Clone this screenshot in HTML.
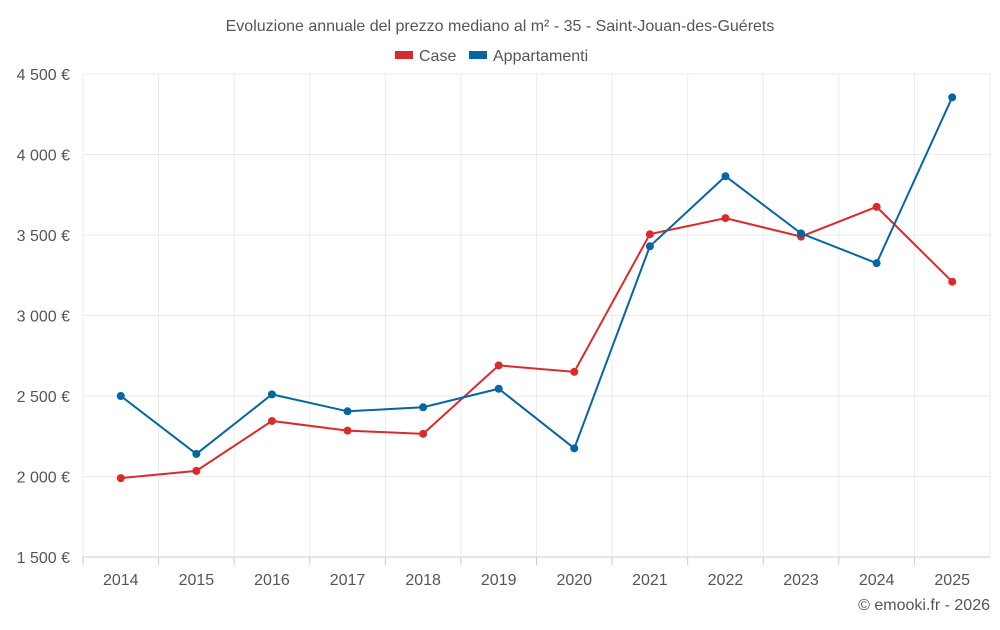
<!DOCTYPE html>
<html><head><meta charset="utf-8"><style>
body{margin:0;background:#fff;font-family:"Liberation Sans",sans-serif}
svg text{font-family:"Liberation Sans",sans-serif;fill:#555}
</style></head><body>
<svg id="chart" width="1000" height="625">
<text x="500" y="31" text-anchor="middle" font-size="16">Evoluzione annuale del prezzo mediano al m² - 35 - Saint-Jouan-des-Guérets</text>
<g>
<g><rect x="395" y="51" width="18" height="8" fill="#d92b2b"/><text x="419" y="61" font-size="16">Case</text></g>
<g><rect x="469" y="51" width="18" height="8" fill="#0566a0"/><text x="493" y="61" font-size="16">Appartamenti</text></g>
</g>
<g id="grid"></g><g id="axes"></g><g id="series"></g>
<text x="990" y="610" text-anchor="end" font-size="16">© emooki.fr - 2026</text>
</svg>
<script>
const years=["2014","2015","2016","2017","2018","2019","2020","2021","2022","2023","2024","2025"];
const caseValues=[1990,2035,2345,2285,2265,2690,2650,3505,3605,3490,3675,3210];
const appValues=[2500,2140,2510,2405,2430,2545,2175,3430,3865,3510,3325,4355];
const yTicks=[1500,2000,2500,3000,3500,4000,4500];
const yTickLabels=["1 500 €","2 000 €","2 500 €","3 000 €","3 500 €","4 000 €","4 500 €"];
const L=83,R=990,T=74,B=557,yMin=1500,yMax=4500;
const step=(R-L)/years.length;
const x=i=>L+step*(i+0.5);
const y=v=>B-(v-yMin)/(yMax-yMin)*(B-T);
const NS="http://www.w3.org/2000/svg";
function mk(t,a,p){const e=document.createElementNS(NS,t);for(const k in a)e.setAttribute(k,a[k]);p.appendChild(e);return e;}
const grid=document.getElementById('grid'),axes=document.getElementById('axes'),ser=document.getElementById('series');
yTicks.forEach((v,i)=>{
 const l=mk('line',{x1:L,x2:R,y1:y(v),y2:y(v),stroke:i===0?'#ccc':'#ebebeb','stroke-width':1},grid);
 
 
 const t=mk('text',{x:70,y:y(v)+6,'text-anchor':'end','font-size':16},axes);
 t.textContent=yTickLabels[i];
 
 
});
for(let i=0;i<=years.length;i++){
 const l=mk('line',{x1:L+step*i,x2:L+step*i,y1:T,y2:B+(i<years.length?0:0),stroke:'#ebebeb'},grid);
 
 
}
years.forEach((yr,i)=>{
 const tk=mk('line',{x1:L+step*i,x2:L+step*i,y1:B,y2:B+8,stroke:'#ccc'},axes);
 
 
 const t=mk('text',{x:x(i),y:585,'text-anchor':'middle','font-size':16},axes);
 t.textContent=yr;
 
 
});
function draw(vals,color,name){
 const p=mk('polyline',{points:vals.map((v,i)=>x(i)+','+y(v)).join(' '),fill:'none',stroke:color,'stroke-width':2},ser);
 
 
 vals.forEach((v,i)=>{
  const c=mk('circle',{cx:x(i),cy:y(v),r:4,fill:color},ser);
  
  
 });
}
draw(caseValues,'#d92b2b','case');
draw(appValues,'#0566a0','appartamenti');
</script>
</body></html>
